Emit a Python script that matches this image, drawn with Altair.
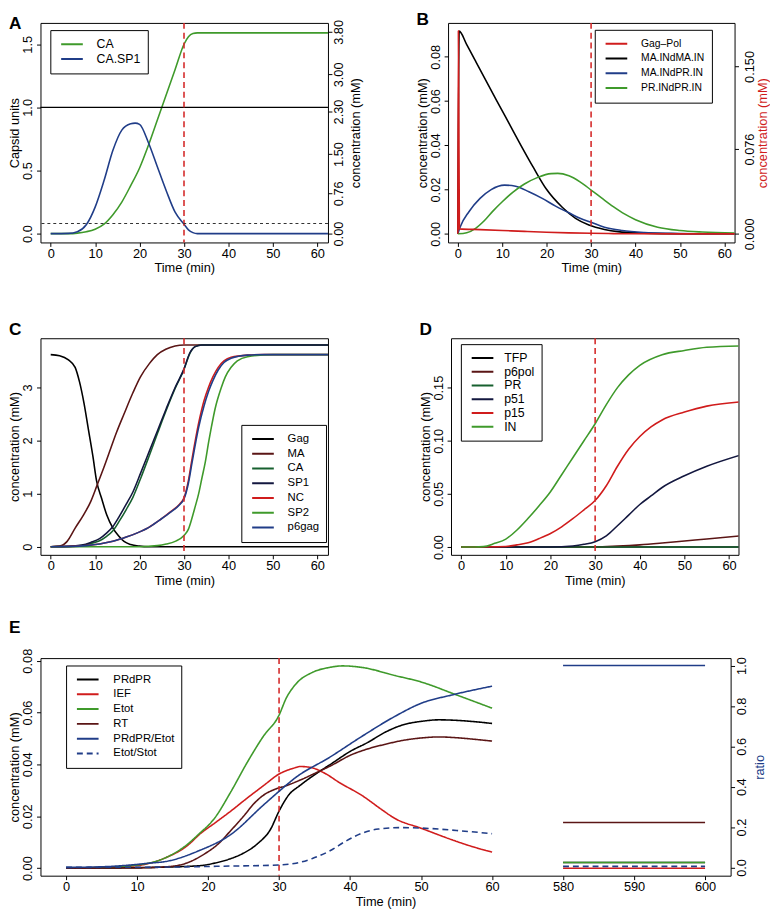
import altair as alt
import pandas as pd

FONT = "Liberation Sans"
BLACK = "#000000"; MAROON = "#5a1515"; DKGREEN = "#17602f"; DKNAVY = "#13173f"
RED = "#d01c1c"; GREEN = "#3f9a2b"; NAVY = "#203d88"; VRED = "#d42a2a"

TIME_TICKS = [0, 10, 20, 30, 40, 50, 60]
XDOM = [-2.3, 62.4]
VLINE_T = [30]

# ---------------- Panel A ----------------
A_CA_t = [0, 4, 6, 8, 10, 12, 14, 16, 18, 20, 22, 24, 26, 28, 30, 31, 32, 33, 35, 62.5]
A_CA_v = [0, 0, 0.004, 0.015, 0.035, 0.075, 0.15, 0.25, 0.38, 0.52, 0.70, 0.90, 1.10, 1.30, 1.50, 1.56, 1.585, 1.59, 1.59, 1.59]
A_SP1_t = [0, 4, 6, 8, 10, 12, 14, 16, 18, 19, 20, 22, 24, 26, 28, 30, 31, 32, 33, 62.5]
A_SP1_v = [0, 0.002, 0.015, 0.07, 0.21, 0.42, 0.66, 0.82, 0.87, 0.875, 0.865, 0.72, 0.53, 0.34, 0.17, 0.075, 0.03, 0.008, 0, 0]
A_HLINE = [1.0]
A_THRESH_MM = [0.19]
A_LEFT_TICKS = [0, 0.5, 1.0, 1.5]
A_RIGHT_TICKS = [0, 0.76, 1.5, 2.3, 3.0, 3.8]

# ---------------- Panel B ----------------
B_GP_t = [0, 0.12, 0.35, 5, 10, 15, 20, 25, 30, 35, 40, 50, 62.5]
B_GP_v = [0, 0.182, 0.0045, 0.0038, 0.003, 0.0022, 0.0015, 0.0009, 0.0005, 0.0002, 0.0001, 0, 0]
B_MM_t = [0, 0.3, 2, 4, 6, 8.8, 11.5, 14.2, 17, 20, 23.5, 26.5, 29.5, 33, 36, 42, 50, 62.5]
B_MM_v = [0, 0.0916, 0.0855, 0.078, 0.0705, 0.06, 0.05, 0.04, 0.03, 0.02, 0.012, 0.007, 0.004, 0.002, 0.001, 0.0003, 0, 0]
B_MP_t = [0, 0.5, 2.5, 5, 7.5, 10.5, 13, 16, 19, 22, 25, 27.5, 30, 33, 37, 42, 48, 55, 62.5]
B_MP_v = [0, 0.003, 0.01, 0.016, 0.02, 0.022, 0.0215, 0.019, 0.016, 0.0125, 0.0095, 0.007, 0.0052, 0.003, 0.0015, 0.0006, 0.0002, 0, 0]
B_PP_t = [0, 2, 4, 6, 8, 10, 12.5, 15, 18, 21, 22.5, 25, 27.5, 30, 32.5, 35, 37.5, 40, 45, 50, 55, 62.5]
B_PP_v = [0, 0.0005, 0.0025, 0.006, 0.0105, 0.0145, 0.019, 0.0225, 0.0255, 0.0272, 0.0273, 0.0262, 0.0235, 0.0198, 0.016, 0.0123, 0.009, 0.0064, 0.003, 0.0015, 0.0008, 0.0003]
B_LEFT_TICKS = [0, 0.02, 0.04, 0.06, 0.08]
B_RIGHT_TICKS = [0, 0.076, 0.150]

# ---------------- Panel C ----------------
C_Gag_t = [0, 2, 4, 5.5, 6.5, 7.5, 8.5, 9.5, 10.3, 11.5, 12.6, 14, 15.3, 16.5, 18, 20, 22, 62.5]
C_Gag_v = [3.62, 3.6, 3.52, 3.38, 3.1, 2.7, 2.2, 1.7, 1.25, 0.9, 0.6, 0.35, 0.2, 0.1, 0.04, 0.01, 0, 0]
C_MA_t = [0, 2, 3.7, 5.5, 7.4, 9, 10.4, 12, 13.5, 14.8, 16.5, 18.5, 20.2, 22.2, 24, 25.9, 28, 30, 62.5]
C_MA_v = [0, 0.01, 0.1, 0.35, 0.6, 0.85, 1.15, 1.5, 1.85, 2.15, 2.5, 2.9, 3.2, 3.45, 3.62, 3.72, 3.78, 3.8, 3.8]
C_SP1_t = [0, 4, 7, 9, 11, 12.5, 14, 15.5, 17, 18.5, 20.3, 22.2, 24.1, 26, 28, 30, 31.3, 32.5, 34, 62.5]
C_SP1_v = [0, 0.005, 0.03, 0.08, 0.15, 0.25, 0.38, 0.58, 0.8, 1.03, 1.4, 1.8, 2.2, 2.6, 3.0, 3.35, 3.65, 3.77, 3.8, 3.8]
C_CA_v = [0, 0.003, 0.02, 0.06, 0.11, 0.19, 0.3, 0.49, 0.7, 0.93, 1.3, 1.72, 2.15, 2.57, 2.98, 3.34, 3.64, 3.77, 3.8, 3.8]
C_NC_t = [0, 5, 8, 11, 14, 17, 19.5, 22, 24.5, 27, 29, 30, 31, 31.8, 33.3, 34.5, 35.5, 36.5, 37.7, 39, 40.6, 44.3, 48, 62.5]
C_NC_v = [0, 0.005, 0.02, 0.05, 0.1, 0.18, 0.26, 0.36, 0.5, 0.66, 0.8, 0.92, 1.25, 1.65, 2.33, 2.75, 3.0, 3.2, 3.38, 3.5, 3.57, 3.61, 3.62, 3.62]
C_P6_v = [0, 0.005, 0.02, 0.05, 0.1, 0.18, 0.26, 0.36, 0.5, 0.65, 0.79, 0.9, 1.2, 1.58, 2.25, 2.65, 2.92, 3.13, 3.33, 3.47, 3.55, 3.61, 3.62, 3.62]
C_SP2_t = [0, 20, 24, 26, 28, 30, 31, 31.8, 32.5, 33.3, 34, 34.8, 35.6, 36.2, 37, 38.4, 39.3, 40.6, 42, 44.3, 50, 62.5]
C_SP2_v = [0, 0, 0.02, 0.05, 0.1, 0.21, 0.33, 0.54, 0.75, 1.0, 1.28, 1.6, 2.0, 2.27, 2.6, 3.0, 3.2, 3.38, 3.5, 3.58, 3.62, 3.62]
C_LEFT_TICKS = [0, 1, 2, 3]

# ---------------- Panel D ----------------
D_FLAT_t = [0, 62.5]
D_TFP_v = [0, 0]
D_PR_v = [0, 0]
D_p6pol_t = [0, 30, 35, 40, 45, 50, 55, 62.5]
D_p6pol_v = [0, 0, 0.0008, 0.002, 0.0037, 0.0056, 0.0075, 0.0105]
D_p51_t = [0, 20, 25, 27.5, 30, 32.5, 35, 37.5, 40, 42.5, 45, 50, 55, 62.5]
D_p51_v = [0, 0, 0.001, 0.0025, 0.005, 0.0105, 0.02, 0.03, 0.04, 0.048, 0.056, 0.067, 0.076, 0.0865]
D_p15_t = [0, 10, 12.5, 15, 17.5, 20, 22.5, 25, 27.5, 30, 32.5, 35, 37.5, 40, 42.5, 45, 50, 55, 62.5]
D_p15_v = [0, 0.0005, 0.002, 0.004, 0.008, 0.0127, 0.019, 0.0266, 0.035, 0.0437, 0.0576, 0.076, 0.092, 0.104, 0.113, 0.1196, 0.127, 0.1326, 0.1366]
D_IN_t = [0, 3, 5, 7.5, 10, 12.5, 15, 17.5, 20, 22.5, 25, 27.5, 30, 32.5, 35, 37.5, 40, 45, 50, 55, 62.5]
D_IN_v = [0, 0, 0.0003, 0.0034, 0.0074, 0.016, 0.027, 0.039, 0.052, 0.068, 0.084, 0.1, 0.116, 0.134, 0.15, 0.162, 0.171, 0.181, 0.185, 0.188, 0.1893]
D_LEFT_TICKS = [0, 0.05, 0.10, 0.15]

# ---------------- Panel E ----------------
E_PRdPR_t = [0, 10, 15, 19, 21, 23, 25, 27, 28.8, 30, 31.3, 33, 35, 37.5, 40, 42.5, 45, 47.5, 50, 52.5, 55, 57.5, 60]
E_PRdPR_v = [0, 0.0002, 0.0005, 0.001, 0.002, 0.0035, 0.0058, 0.0095, 0.015, 0.022, 0.028, 0.032, 0.036, 0.0405, 0.045, 0.0485, 0.0525, 0.0553, 0.0566, 0.0572, 0.057, 0.0565, 0.0558]
E_IEF_t = [0, 5, 10, 14, 17, 19, 21, 23.2, 25.5, 27.8, 30, 32, 33, 34.5, 36.5, 38.5, 41.7, 44.5, 46.3, 50, 54.3, 57, 60]
E_IEF_v = [0, 0.0003, 0.001, 0.004, 0.0085, 0.0135, 0.0175, 0.022, 0.027, 0.0318, 0.0363, 0.0385, 0.0392, 0.0388, 0.0365, 0.033, 0.028, 0.0225, 0.0192, 0.0154, 0.011, 0.0085, 0.0062]
E_Etot_t = [0, 5, 10, 14, 17, 18.6, 20.9, 23.2, 25.5, 27.8, 30, 31, 32.4, 34.7, 37.1, 38.9, 41.7, 46.3, 50, 55, 60]
E_Etot_v = [0, 0.0003, 0.0012, 0.004, 0.009, 0.0129, 0.0192, 0.0294, 0.0407, 0.0509, 0.059, 0.0655, 0.0711, 0.0755, 0.0774, 0.078, 0.0774, 0.0743, 0.0718, 0.0668, 0.0617]
E_RT_t = [0, 10, 14, 17, 19.5, 21.5, 23.2, 25, 26.5, 28, 29.5, 31, 33, 35, 37.5, 40, 42.5, 45, 47.5, 50, 52.5, 55, 57.5, 60]
E_RT_v = [0, 0.0001, 0.0005, 0.002, 0.0055, 0.0095, 0.0145, 0.02, 0.025, 0.0285, 0.0305, 0.0318, 0.034, 0.0365, 0.0398, 0.0435, 0.046, 0.0478, 0.0493, 0.0502, 0.0506, 0.0503, 0.0497, 0.049]
E_RATIO_t = [0, 5, 9.4, 11.7, 14, 18.6, 23.2, 27.8, 29.9, 32.4, 37.1, 41.7, 46.3, 50, 54.3, 60]
E_RATIO_v = [0, 0.003, 0.013, 0.021, 0.029, 0.081, 0.163, 0.309, 0.374, 0.447, 0.545, 0.65, 0.748, 0.813, 0.854, 0.898]
E_ES_t = [0, 15, 22, 29.9, 32.4, 34.7, 37.1, 39.4, 41.7, 44, 47, 50, 55, 60]
E_ES_v = [0, 0.002, 0.006, 0.012, 0.021, 0.044, 0.081, 0.13, 0.17, 0.19, 0.197, 0.195, 0.183, 0.167]
E_LATE_t = [580, 600]
E_LATE = {"PRdPR": 0.0022, "IEF": 0.0, "Etot": 0.0022, "RT": 0.0176, "PRdPR/Etot": 1.0, "Etot/Stot": 0.005}
E_X_TICKS = [0, 10, 20, 30, 40, 50, 60, 70, 80, 90]
E_LEFT_TICKS = [0, 0.02, 0.04, 0.06, 0.08]
E_RIGHT_TICKS = [0, 0.2, 0.4, 0.6, 0.8, 1.0]


def long(pairs):
    rows = []
    for name, ts, vs in pairs:
        for t, v in zip(ts, vs):
            rows.append({"series": name, "t": t, "v": v})
    return pd.DataFrame(rows)


def sc(lo, hi):
    return alt.Scale(domain=[lo, hi], nice=False, zero=False)


def x_axis(values=TIME_TICKS, labelExpr=None):
    kw = dict(values=values, title="Time (min)", tickSize=4, labelPadding=1, titlePadding=2,
              grid=False, domain=False, labelOverlap=False)
    if labelExpr:
        kw["labelExpr"] = labelExpr
    return alt.Axis(**kw)


def left_axis(values, fmt, title):
    return alt.Axis(values=values, format=fmt, title=title, orient="left", labelAngle=270,
                    labelAlign="center", labelBaseline="bottom", tickSize=4, labelPadding=2,
                    titlePadding=0, grid=False, domain=False, labelOverlap=False)


def right_axis(values, fmt, title, titleColor="black", labelPadding=1, titlePadding=4):
    return alt.Axis(values=values, format=fmt, title=title, orient="right", labelAngle=270,
                    labelAlign="center", labelBaseline="top", titleAngle=270, titleBaseline="top",
                    tickSize=4, labelPadding=labelPadding, titlePadding=titlePadding, grid=False,
                    domain=False, labelOverlap=False, titleColor=titleColor)


def legend(x, y, fs, rowh, lo=13):
    return alt.Legend(orient="none", legendX=x, legendY=y, title=None, symbolType="stroke",
                      symbolSize=484, symbolStrokeWidth=2, labelFontSize=fs, labelFont=FONT,
                      labelColor="black", strokeColor="black", fillColor="white", padding=7,
                      clipHeight=rowh, rowPadding=0, labelOffset=lo, symbolOffset=3,
                      cornerRadius=0, labelLimit=0)


def letter(s, off):
    return alt.TitleParams(text=s, anchor="start", frame="bounds", fontSize=17.5, fontWeight="bold",
                           font=FONT, offset=off, color="black")


def vline(xscale, xaxis, field="t"):
    return alt.Chart(pd.DataFrame({field: VLINE_T})).mark_rule(
        color=VRED, strokeDash=[6, 4], strokeWidth=1.6).encode(
        x=alt.X(f"{field}:Q", scale=xscale, axis=xaxis))


LW = 1.6

# ---------- A ----------
xsA = sc(*XDOM); xaA = x_axis()
ysA = sc(-0.07, 1.669); yaA = left_axis(A_LEFT_TICKS, ".1f", "Capsid units")
dfA = long([("CA", A_CA_t, A_CA_v), ("CA.SP1", A_SP1_t, A_SP1_v)])
A_lines = alt.Chart(dfA).mark_line(clip=True, strokeWidth=LW, interpolate="monotone").encode(
    x=alt.X("t:Q", scale=xsA, axis=xaA), y=alt.Y("v:Q", scale=ysA, axis=yaA),
    color=alt.Color("series:N", scale=alt.Scale(domain=["CA", "CA.SP1"], range=[GREEN, NAVY]),
                    legend=legend(10, 7.3, 12.5, 14.7)))
A_h = alt.Chart(pd.DataFrame({"v": A_HLINE})).mark_rule(color="black", strokeWidth=1.1).encode(
    y=alt.Y("v:Q", scale=ysA, axis=yaA))
A_th = alt.Chart(pd.DataFrame({"c": A_THRESH_MM})).mark_rule(
    color="#333333", strokeDash=[3, 3], strokeWidth=1.1).encode(
    y=alt.Y("c:Q", scale=sc(-0.167, 3.97),
            axis=right_axis(A_RIGHT_TICKS, ".2f", "concentration (mM)")))
A = alt.layer(alt.layer(A_lines, A_h, vline(xsA, xaA)), A_th).resolve_scale(
    y="independent").properties(width=292, height=223, title=letter("A", -13.5))

# ---------- B ----------
xsB = sc(-2.2, 62.3); xaB = x_axis()
ysB = sc(-0.0039, 0.0953); yaB = left_axis(B_LEFT_TICKS, ".2f", "concentration (mM)")
B_dom = ["Gag\u2013Pol", "MA.INdMA.IN", "MA.INdPR.IN", "PR.INdPR.IN"]
B_rng = [RED, BLACK, NAVY, GREEN]
B_leg = legend(149, 7, 10.5, 14.3)
dfB = long([("MA.INdMA.IN", B_MM_t, B_MM_v), ("MA.INdPR.IN", B_MP_t, B_MP_v),
            ("PR.INdPR.IN", B_PP_t, B_PP_v)])
dfBr = long([("Gag\u2013Pol", B_GP_t, B_GP_v)])
B_lines = alt.Chart(dfB).mark_line(clip=True, strokeWidth=LW, interpolate="monotone").encode(
    x=alt.X("t:Q", scale=xsB, axis=xaB), y=alt.Y("v:Q", scale=ysB, axis=yaB),
    color=alt.Color("series:N", scale=alt.Scale(domain=B_dom, range=B_rng), legend=B_leg))
B_red = alt.Chart(dfBr).mark_line(clip=True, strokeWidth=LW, interpolate="monotone").encode(
    x=alt.X("t:Q", scale=xsB, axis=xaB),
    y=alt.Y("v:Q", scale=sc(-0.0077, 0.189),
            axis=right_axis(B_RIGHT_TICKS, ".3f", "concentration (mM)", titleColor=RED,
                            labelPadding=5, titlePadding=0)),
    color=alt.Color("series:N", scale=alt.Scale(domain=B_dom, range=B_rng), legend=B_leg))
B = alt.layer(alt.layer(B_lines, vline(xsB, xaB)), B_red).resolve_scale(
    y="independent").properties(width=291, height=223, title=letter("B", -6.5))

# ---------- C ----------
xsC = sc(*XDOM); xaC = x_axis()
C_dom = ["Gag", "MA", "CA", "SP1", "NC", "SP2", "p6gag"]
C_rng = [BLACK, MAROON, DKGREEN, DKNAVY, RED, GREEN, NAVY]
dfC = long([("Gag", C_Gag_t, C_Gag_v), ("MA", C_MA_t, C_MA_v), ("CA", C_SP1_t, C_CA_v),
            ("SP1", C_SP1_t, C_SP1_v), ("NC", C_NC_t, C_NC_v), ("SP2", C_SP2_t, C_SP2_v),
            ("p6gag", C_NC_t, C_P6_v)])
C_lines = alt.Chart(dfC).mark_line(clip=True, strokeWidth=LW, interpolate="monotone").encode(
    x=alt.X("t:Q", scale=xsC, axis=xaC),
    y=alt.Y("v:Q", scale=sc(-0.154, 3.928), axis=left_axis(C_LEFT_TICKS, "d", "concentration (mM)")),
    color=alt.Color("series:N", scale=alt.Scale(domain=C_dom, range=C_rng),
                    legend=legend(204, 88, 11.5, 14.5)))
C = alt.layer(C_lines, vline(xsC, xaC)).properties(width=292, height=220, title=letter("C", -1))

# ---------- D ----------
xsD = sc(-2.27, 62.1); xaD = x_axis()
D_dom = ["TFP", "p6pol", "PR", "p51", "p15", "IN"]
D_rng = [BLACK, MAROON, DKGREEN, DKNAVY, RED, GREEN]
dfD = long([("TFP", D_FLAT_t, D_TFP_v), ("p6pol", D_p6pol_t, D_p6pol_v), ("PR", D_FLAT_t, D_PR_v),
            ("p51", D_p51_t, D_p51_v), ("p15", D_p15_t, D_p15_v), ("IN", D_IN_t, D_IN_v)])
D_lines = alt.Chart(dfD).mark_line(clip=True, strokeWidth=LW, interpolate="monotone").encode(
    x=alt.X("t:Q", scale=xsD, axis=xaD),
    y=alt.Y("v:Q", scale=sc(-0.0074, 0.1965), axis=left_axis(D_LEFT_TICKS, ".2f", "concentration (mM)")),
    color=alt.Color("series:N", scale=alt.Scale(domain=D_dom, range=D_rng),
                    legend=legend(10, 6, 12.5, 14, lo=10)))
D = alt.layer(D_lines, vline(xsD, xaD)).properties(width=292, height=220, title=letter("D", -1))

# ---------- E ----------
E_dom = ["PRdPR", "IEF", "Etot", "RT", "PRdPR/Etot", "Etot/Stot"]
E_rng = [BLACK, RED, GREEN, MAROON, NAVY, NAVY]
E_dash = [[1, 0], [1, 0], [1, 0], [1, 0], [1, 0], [6, 4]]
E_leg = legend(26, 7.5, 11.5, 14.6, lo=14)
xsE = sc(-3.6, 93.6)
xaE = x_axis(E_X_TICKS, "datum.value > 60 ? datum.value + 510 : datum.value")
left_pairs = [("PRdPR", E_PRdPR_t, E_PRdPR_v), ("IEF", E_IEF_t, E_IEF_v),
              ("Etot", E_Etot_t, E_Etot_v), ("RT", E_RT_t, E_RT_v)]
right_pairs = [("PRdPR/Etot", E_RATIO_t, E_RATIO_v), ("Etot/Stot", E_ES_t, E_ES_v)]
dfEl = long(left_pairs + [(n, E_LATE_t, [E_LATE[n]] * 2) for n, _, _ in left_pairs])
dfEr = long(right_pairs + [(n, E_LATE_t, [E_LATE[n]] * 2) for n, _, _ in right_pairs])


def e_lines(df, yenc):
    return alt.Chart(df).transform_calculate(
        xp="datum.t > 100 ? datum.t - 510 : datum.t",
        seg="datum.t > 100 ? 'late' : 'early'").mark_line(
        clip=True, strokeWidth=LW, interpolate="monotone").encode(
        x=alt.X("xp:Q", scale=xsE, axis=xaE), y=yenc, detail="seg:N",
        color=alt.Color("series:N", scale=alt.Scale(domain=E_dom, range=E_rng), legend=E_leg),
        strokeDash=alt.StrokeDash("series:N", scale=alt.Scale(domain=E_dom, range=E_dash), legend=E_leg))


E_left = e_lines(dfEl, alt.Y("v:Q", scale=sc(-0.0029, 0.081),
                              axis=left_axis(E_LEFT_TICKS, ".2f", "concentration (mM)")))
E_right = e_lines(dfEr, alt.Y("v:Q", scale=sc(-0.041, 1.037),
                               axis=right_axis(E_RIGHT_TICKS, ".1f", "ratio", titleColor=NAVY,
                                               titlePadding=5)))
E_vl = alt.Chart(pd.DataFrame({"xp": VLINE_T})).mark_rule(
    color=VRED, strokeDash=[6, 4], strokeWidth=1.6).encode(x=alt.X("xp:Q", scale=xsE, axis=xaE))
E = alt.layer(alt.layer(E_left, E_vl), E_right).resolve_scale(
    y="independent").properties(width=701, height=221, title=letter("E", 12))

row1 = alt.hconcat(A, B, spacing=53).resolve_scale(color="independent")
row2 = alt.hconcat(C, D, spacing=91).resolve_scale(color="independent")
top = alt.vconcat(row1, row2, spacing=45.3).resolve_scale(color="independent")
chart = alt.vconcat(top, E, spacing=30.2).resolve_scale(
    color="independent", strokeDash="independent").properties(
    padding={"top": -5, "left": 0, "right": 0, "bottom": 0})
chart = chart.configure_view(stroke="black", strokeWidth=1).configure_axis(
    labelFont=FONT, titleFont=FONT, labelFontSize=13, titleFontSize=13, titleFontWeight="normal",
    labelColor="black", tickColor="black", titleColor="black")

chart.save("out.html", embed_options={"renderer": "svg", "actions": False})
